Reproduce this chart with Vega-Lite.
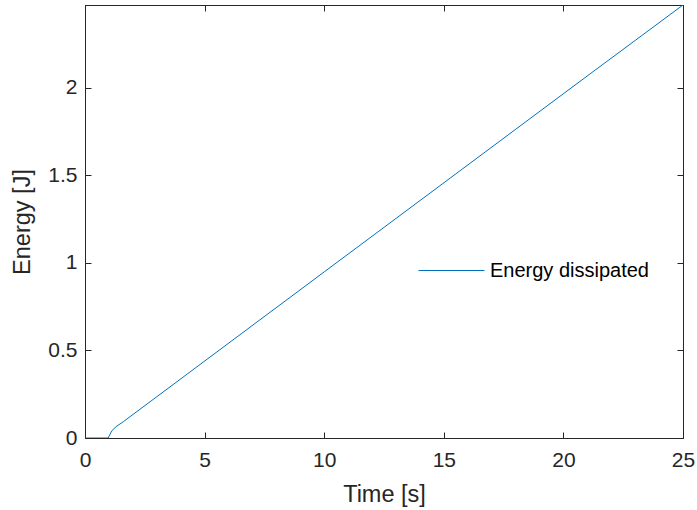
{
  "$schema": "https://vega.github.io/schema/vega-lite/v6.json",
  "autosize": {"type": "none"},
  "width": 598,
  "height": 433,
  "padding": {"left": 85, "top": 5, "right": 14, "bottom": 72},
  "background": "white",
  "config": {
    "view": {"stroke": "#262626", "strokeWidth": 1},
    "font": "Liberation Sans",
    "axis": {
      "labelFont": "Liberation Sans",
      "titleFont": "Liberation Sans",
      "labelFontSize": 21,
      "titleFontSize": 23.5,
      "titleFontWeight": "normal",
      "labelColor": "#262626",
      "titleColor": "#262626",
      "domainColor": "#262626",
      "tickColor": "#262626",
      "labelFlush": false,
      "grid": false
    }
  },
  "data": {
    "values": [
      {"t": 0, "E": 0, "s": "Energy dissipated"},
      {"t": 0.97, "E": 0, "s": "Energy dissipated"},
      {"t": 1.12, "E": 0.041, "s": "Energy dissipated"},
      {"t": 1.3, "E": 0.065, "s": "Energy dissipated"},
      {"t": 1.6, "E": 0.093, "s": "Energy dissipated"},
      {"t": 10, "E": 0.949, "s": "Energy dissipated"},
      {"t": 21.11, "E": 2.08, "s": "Energy dissipated"},
      {"t": 25, "E": 2.474, "s": "Energy dissipated"}
    ]
  },
  "layer": [
    {
      "mark": {"type": "line", "strokeWidth": 1, "clip": true},
      "encoding": {
        "x": {
          "field": "t", "type": "quantitative",
          "scale": {"domain": [0, 25], "nice": false, "zero": false},
          "axis": {"title": "Time [s]", "values": [0, 5, 10, 15, 20, 25], "tickSize": -6, "labelPadding": 17, "titlePadding": 12, "labelFlush": false, "domain": true}
        },
        "y": {
          "field": "E", "type": "quantitative",
          "scale": {"domain": [0, 2.474], "nice": false, "zero": false},
          "axis": {"title": "Energy [J]", "values": [0, 0.5, 1, 1.5, 2], "format": "~g", "tickSize": -6, "labelPadding": 14, "titlePadding": 13, "labelFlush": false}
        },
        "color": {
          "field": "s", "type": "nominal",
          "scale": {"range": ["#0072BD"]},
          "legend": {
            "title": null,
            "orient": "none",
            "legendX": 333,
            "legendY": 232,
            "symbolType": "stroke",
            "symbolSize": 4356,
            "symbolStrokeWidth": 1,
            "labelFontSize": 20,
            "labelFont": "Liberation Sans",
            "labelColor": "#000000",
            "labelOffset": 5
          }
        }
      }
    },
    {
      "mark": {"type": "line", "opacity": 0},
      "encoding": {
        "x": {"field": "t", "type": "quantitative", "axis": {"orient": "top", "labels": false, "title": null, "values": [0, 5, 10, 15, 20, 25], "tickSize": -6}},
        "y": {"field": "E", "type": "quantitative", "axis": {"orient": "right", "labels": false, "title": null, "values": [0, 0.5, 1, 1.5, 2], "tickSize": -6}}
      }
    }
  ],
  "resolve": {"axis": {"x": "independent", "y": "independent"}}
}
